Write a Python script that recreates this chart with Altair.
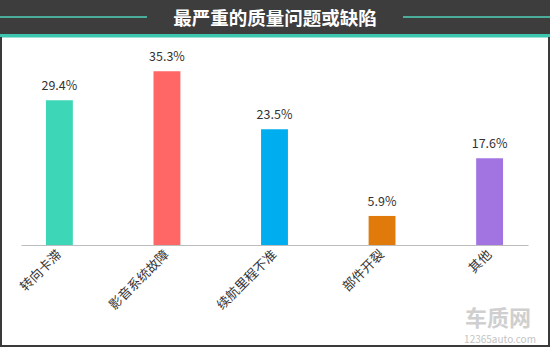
import altair as alt
import pandas as pd

categories = ["转向卡滞", "影音系统故障", "续航里程不准", "部件开裂", "其他"]
values = [29.4, 35.3, 23.5, 5.9, 17.6]
labels = ["29.4%", "35.3%", "23.5%", "5.9%", "17.6%"]
colors = ["#3dd6b7", "#ff6666", "#00aeef", "#df7a0b", "#a274e2"]
title_text = "最严重的质量问题或缺陷"
brand_text = "车质网"
site_text = "12365auto.com"

FONT = "Noto Sans CJK SC"

df = pd.DataFrame({"cat": categories, "val": values, "lab": labels})
one = pd.DataFrame({"a": [0]})

W, H = 507, 197
L, T = 21, 48

x_enc = alt.X(
    "cat:N",
    sort=categories,
    scale=alt.Scale(paddingInner=0.75, paddingOuter=0.232),
    axis=alt.Axis(
        title=None,
        labelAngle=-45,
        labelAlign="right",
        labelBaseline="middle",
        labelFont=FONT,
        labelFontSize=13,
        labelColor="#333333",
        labelPadding=7,
        ticks=False,
        domainColor="#bdbdbd",
        domainWidth=1,
        grid=False,
    ),
)
y_enc = alt.Y("val:Q", scale=alt.Scale(domain=[0, 40]), axis=None)

bars = alt.Chart(df).mark_bar().encode(
    x=x_enc,
    y=y_enc,
    color=alt.Color("cat:N", sort=categories,
                    scale=alt.Scale(domain=categories, range=colors), legend=None),
)
texts = alt.Chart(df).mark_text(
    baseline="bottom", dy=-7, font=FONT, fontSize=12.5, color="#333333"
).encode(x=alt.X("cat:N", sort=categories), y="val:Q", text="lab:N")

# decorations (outside the plot area)
header = alt.Chart(one).mark_rect(color="#3d3d3d").encode(
    x=alt.value(-L), x2=alt.value(550 - L), y=alt.value(-T), y2=alt.value(-T + 34)
)
strip = alt.Chart(one).mark_rect(color="#3cc6ae").encode(
    x=alt.value(-L), x2=alt.value(550 - L), y=alt.value(-T + 34), y2=alt.value(-T + 37.5)
)
line_l = alt.Chart(one).mark_rule(color="#4fd3b9", strokeWidth=1.5).encode(
    x=alt.value(-L), x2=alt.value(147 - L), y=alt.value(17 - T)
)
line_r = alt.Chart(one).mark_rule(color="#4fd3b9", strokeWidth=1.5).encode(
    x=alt.value(403 - L), x2=alt.value(550 - L), y=alt.value(17 - T)
)
title = alt.Chart(one).mark_text(
    text=title_text, font=FONT, fontSize=18.5, fontWeight="bold", color="#ffffff",
    baseline="middle", align="center"
).encode(x=alt.value(275 - L), y=alt.value(18.5 - T))

border_l = alt.Chart(one).mark_rule(color="#3a3a3a", strokeWidth=2).encode(
    x=alt.value(1 - L), y=alt.value(37 - T), y2=alt.value(347 - T)
)
border_r = alt.Chart(one).mark_rule(color="#3a3a3a", strokeWidth=2).encode(
    x=alt.value(549 - L), y=alt.value(37 - T), y2=alt.value(347 - T)
)
border_b = alt.Chart(one).mark_rule(color="#3a3a3a", strokeWidth=2).encode(
    x=alt.value(-L), x2=alt.value(550 - L), y=alt.value(346 - T)
)
brand = alt.Chart(one).mark_text(
    text=brand_text, font=FONT, fontSize=22, fontWeight="bold", color="#cfcfcf",
    baseline="middle", align="center"
).encode(x=alt.value(498 - L), y=alt.value(319 - T))
site = alt.Chart(one).mark_text(
    text=site_text, font=FONT, fontSize=10, color="#c4c4c4",
    baseline="middle", align="center"
).encode(x=alt.value(500 - L), y=alt.value(340 - T))

chart = alt.layer(
    header, strip, line_l, line_r, title, brand, site, bars, texts,
    border_l, border_r, border_b
).properties(
    width=W, height=H,
    autosize=alt.AutoSizeParams(type="none"),
    padding={"left": L, "top": T, "right": 550 - L - W, "bottom": 347 - T - H},
    background="#ffffff",
).configure_view(stroke=None)

chart.save("out.html", embed_options={"renderer": "svg", "actions": False})
